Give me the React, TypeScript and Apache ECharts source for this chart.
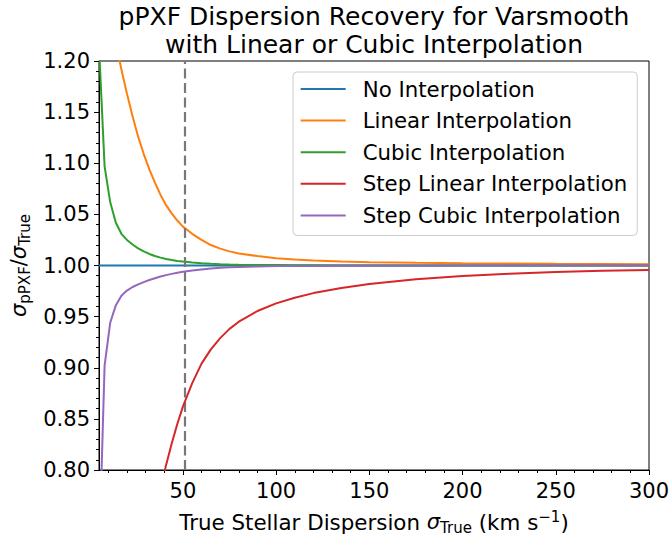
import React, { useEffect, useRef } from "react";
import * as echarts from "echarts";

const X = [5, 8, 11, 14, 17, 20, 23, 26, 29, 32, 35, 38, 41, 44, 47, 50, 55, 60, 65, 70, 75, 80, 90, 100, 110, 120, 135, 150, 175, 200, 225, 250, 275, 300];

const noInterp = [1, 1, 1, 1, 1, 1, 1, 1, 1, 1, 1, 1, 1, 1, 1, 1, 1, 1, 1, 1, 1, 1, 1, 1, 1, 1, 1, 1, 1, 1, 1, 1, 1, 1];
const linearInterp = [1.45, 1.35, 1.275, 1.218, 1.192, 1.168, 1.146, 1.126, 1.109, 1.094, 1.081, 1.069, 1.059, 1.051, 1.044, 1.038, 1.031, 1.025, 1.02, 1.0165, 1.0138, 1.0118, 1.0092, 1.0072, 1.0059, 1.0049, 1.0039, 1.0033, 1.0027, 1.0023, 1.002, 1.0017, 1.0015, 1.0013];
const cubicInterp = [1.215, 1.097, 1.062, 1.042, 1.031, 1.025, 1.0205, 1.0168, 1.0138, 1.0113, 1.0093, 1.0077, 1.0064, 1.0053, 1.0045, 1.0038, 1.0029, 1.0022, 1.0017, 1.0013, 1.001, 1.0008, 1.0005, 1.0004, 1.0003, 1.0002, 1.0001, 1.0001, 1.0, 1.0, 1.0, 1.0, 1.0, 1.0];
const stepLinear = [null, null, null, null, null, null, null, null, 0.69, 0.725, 0.755, 0.782, 0.805, 0.826, 0.845, 0.862, 0.885, 0.904, 0.918, 0.929, 0.938, 0.945, 0.9555, 0.963, 0.9685, 0.973, 0.978, 0.9818, 0.9865, 0.9898, 0.992, 0.9937, 0.9948, 0.9956];
const stepCubic = [0.713, 0.902, 0.944, 0.961, 0.9705, 0.9755, 0.979, 0.9815, 0.9838, 0.9858, 0.9876, 0.9892, 0.9906, 0.9918, 0.9929, 0.9938, 0.9952, 0.9962, 0.997, 0.9977, 0.9982, 0.9986, 0.9991, 0.9994, 0.9995, 0.9996, 0.9997, 0.9998, 0.9998, 0.9999, 0.9999, 0.9999, 0.9999, 0.9999];

const seriesNames = ["No Interpolation", "Linear Interpolation", "Cubic Interpolation", "Step Linear Interpolation", "Step Cubic Interpolation"];
const seriesValues = [noInterp, linearInterp, cubicInterp, stepLinear, stepCubic];
const colors = ["#1f77b4", "#ff7f0e", "#2ca02c", "#d62728", "#9467bd"];

const xMajorTicks = [50, 100, 150, 200, 250, 300];
const xMinorTicks = [10, 20, 30, 40, 60, 70, 80, 90, 110, 120, 130, 140, 160, 170, 180, 190, 210, 220, 230, 240, 260, 270, 280, 290];
const markerX = 51;

const FONT = "DejaVu Sans";

export default function App() {
  const ref = useRef<HTMLDivElement>(null);
  useEffect(() => {
    if (!ref.current) return;
    const chart = echarts.init(ref.current, null, { renderer: "svg" });
    const rich = {
      s: { fontStyle: "italic", fontSize: 21, fontFamily: FONT, color: "#000", lineHeight: 26 },
      sub: { fontSize: 15, fontFamily: FONT, color: "#000", lineHeight: 14, verticalAlign: "bottom" },
      sup: { fontSize: 15, fontFamily: FONT, color: "#000", lineHeight: 14, verticalAlign: "top" },
    };
    const series: any[] = seriesNames.map((name, i) => ({
      name,
      type: "line",
      data: X.map((x, j) => [x, seriesValues[i][j]]).filter((p) => p[1] !== null),
      showSymbol: false,
      symbol: "none",
      clip: true,
      z: 2 + i,
      lineStyle: { color: colors[i], width: 2 },
      itemStyle: { color: colors[i] },
    }));
    series[0].markLine = {
      silent: true,
      symbol: ["none", "none"],
      label: { show: false },
      lineStyle: { color: "#787878", width: 2.2, type: [10, 4.5] },
      emphasis: { disabled: true },
      data: [{ xAxis: markerX }],
    };
    chart.setOption({
      animation: false,
      backgroundColor: "#fff",
      textStyle: { fontFamily: FONT },
      graphic: [
        {
          type: "text",
          x: 374,
          y: 2,
          style: {
            text: "pPXF Dispersion Recovery for Varsmooth\nwith Linear or Cubic Interpolation",
            fontSize: 25,
            fontFamily: FONT,
            fill: "#000",
            align: "center",
            textAlign: "center",
            verticalAlign: "top",
            textVerticalAlign: "top",
            lineHeight: 28,
          },
        },
      ],
      grid: {
        left: 99,
        right: 21,
        top: 61,
        bottom: 66,
        show: true,
        containLabel: false,
        outerBoundsMode: "none",
        borderColor: "#000",
        borderWidth: 1,
        backgroundColor: "transparent",
      },
      legend: {
        orient: "vertical",
        left: 293,
        top: 72,
        icon: "rect",
        itemWidth: 45,
        itemHeight: 2,
        itemGap: 9.6,
        padding: [6, 10, 9, 7.7],
        backgroundColor: "rgba(255,255,255,0.8)",
        borderColor: "#cccccc",
        borderWidth: 1,
        borderRadius: 4,
        textStyle: { fontSize: 21.3, fontFamily: FONT, color: "#000", lineHeight: 22, padding: [0, 0, 0, 12] },
        data: seriesNames,
      },
      xAxis: [
        {
          type: "value",
          min: 5,
          max: 300,
          position: "bottom",
          axisLine: { show: true, onZero: false, lineStyle: { color: "#000", width: 1 } },
          splitLine: { show: false },
          axisTick: { show: true, length: 5, customValues: xMajorTicks, lineStyle: { color: "#000", width: 1 } },
          axisLabel: { customValues: xMajorTicks, fontSize: 21, fontFamily: FONT, color: "#000", margin: 10 },
          name: "True Stellar Dispersion {s|σ}{sub|True} (km s{sup|−1})",
          nameLocation: "middle",
          nameGap: 39,
          nameTextStyle: { fontSize: 21.4, fontFamily: FONT, color: "#000", lineHeight: 26, rich },
        },
        {
          type: "value",
          min: 5,
          max: 300,
          position: "bottom",
          gridIndex: 0,
          axisLine: { show: false },
          splitLine: { show: false },
          axisTick: { show: true, length: 3, customValues: xMinorTicks, lineStyle: { color: "#000", width: 1 } },
          axisLabel: { show: false },
        },
      ],
      yAxis: {
        type: "value",
        min: 0.8,
        max: 1.2,
        interval: 0.05,
        axisLine: { show: true, onZero: false, lineStyle: { color: "#000", width: 1 } },
        splitLine: { show: false },
        axisTick: { show: true, length: 5, lineStyle: { color: "#000", width: 1 } },
        minorTick: { show: true, splitNumber: 5, length: 3, lineStyle: { color: "#000", width: 1 } },
        minorSplitLine: { show: false },
        axisLabel: {
          fontSize: 21,
          fontFamily: FONT,
          color: "#000",
          margin: 9,
          formatter: (v: number) => v.toFixed(2),
        },
        name: "{s|σ}{sub|pPXF}/{s|σ}{sub|True}",
        nameLocation: "middle",
        nameRotate: 90,
        nameGap: 64,
        nameTextStyle: { fontSize: 21, fontFamily: FONT, color: "#000", lineHeight: 26, rich },
      },
      series,
    });
    return () => chart.dispose();
  }, []);
  return (
    <div
      ref={ref}
      style={{ position: "absolute", left: 0, top: 0, width: 670, height: 536, background: "#fff" }}
    />
  );
}
